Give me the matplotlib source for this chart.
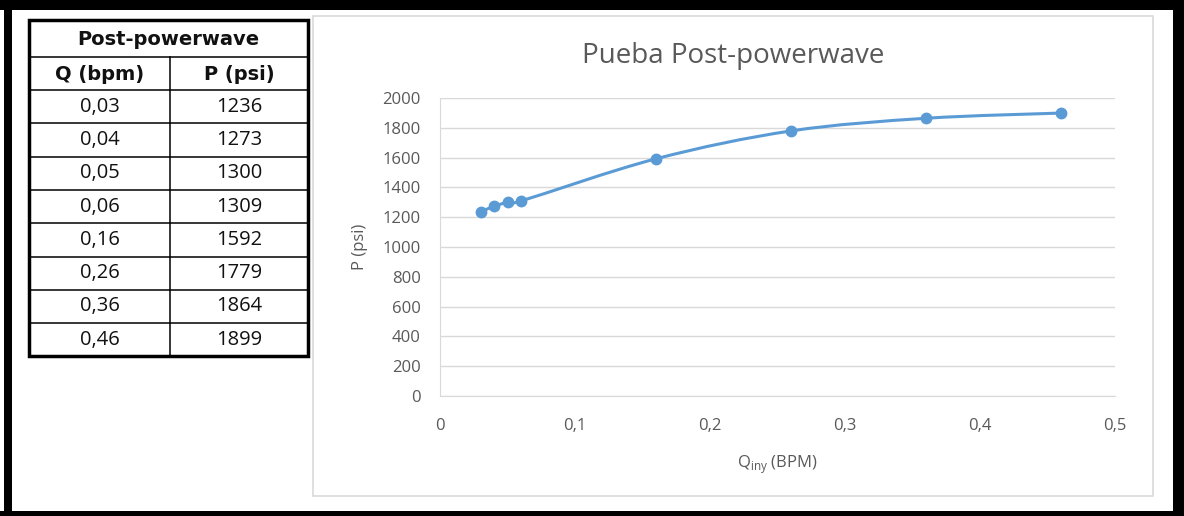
import matplotlib
matplotlib.use("Agg")
import matplotlib.pyplot as plt
from matplotlib.patches import Rectangle
from matplotlib.path import Path
from matplotlib.patches import PathPatch

q_labels = ["0,03", "0,04", "0,05", "0,06", "0,16", "0,26", "0,36", "0,46"]
p_labels = ["1236", "1273", "1300", "1309", "1592", "1779", "1864", "1899"]
q_values = [0.03, 0.04, 0.05, 0.06, 0.16, 0.26, 0.36, 0.46]
p_values = [1236, 1273, 1300, 1309, 1592, 1779, 1864, 1899]
x_ticks = [0, 0.1, 0.2, 0.3, 0.4, 0.5]
x_tick_labels = ["0", "0,1", "0,2", "0,3", "0,4", "0,5"]
y_ticks = list(range(0, 2001, 200))

W, H = 1184, 516
fig = plt.figure(figsize=(W / 100, H / 100), dpi=100)
fig.patch.set_facecolor("white")

FONT = ["Open Sans", "DejaVu Sans"]
HFONT = ["DejaVu Sans"]


def fx(px):
    return px / W


def fy(py):
    return 1 - py / H


# overlay axes in pixel coords
ov = fig.add_axes([0, 0, 1, 1])
ov.set_xlim(0, W)
ov.set_ylim(H, 0)
ov.axis("off")

# outer black frame
ov.add_patch(Rectangle((0, 0), W, 10, color="black", lw=0))
ov.add_patch(Rectangle((0, 511), W, 5, color="black", lw=0))
ov.add_patch(Rectangle((4, 0), 8, H, color="black", lw=0))
ov.add_patch(Rectangle((1173, 0), 11, H, color="black", lw=0))

# chart area border
ov.add_patch(Rectangle((313, 16), 840, 480, fill=False, ec="#d9d9d9", lw=1.2))

# table
tx0, tx1, tmid = 29, 308, 170
row_edges = [20, 57, 90] + [90 + 33.3 * (i + 1) for i in range(8)]
ov.add_patch(Rectangle((tx0, row_edges[0]), tx1 - tx0, row_edges[-1] - row_edges[0],
                       fill=False, ec="black", lw=2.5))
for yy in row_edges[1:-1]:
    ov.plot([tx0, tx1], [yy, yy], color="black", lw=1.1)
ov.plot([tmid, tmid], [row_edges[1], row_edges[-1]], color="black", lw=1.1)

HS = 14
TS = 14.5
ov.text((tx0 + tx1) / 2, (row_edges[0] + row_edges[1]) / 2 + 1, "Post-powerwave",
        ha="center", va="center", fontsize=HS, fontweight="bold", family=HFONT, color="#111111")
ov.text((tx0 + tmid) / 2, (row_edges[1] + row_edges[2]) / 2 + 1, "Q (bpm)",
        ha="center", va="center", fontsize=HS, fontweight="bold", family=HFONT, color="#111111")
ov.text((tmid + tx1) / 2, (row_edges[1] + row_edges[2]) / 2 + 1, "P (psi)",
        ha="center", va="center", fontsize=HS, fontweight="bold", family=HFONT, color="#111111")
for i, (ql, pl) in enumerate(zip(q_labels, p_labels)):
    yc = (row_edges[2 + i] + row_edges[3 + i]) / 2
    ov.text((tx0 + tmid) / 2, yc, ql, ha="center", va="center", fontsize=TS, family=FONT, color="#111111")
    ov.text((tmid + tx1) / 2, yc, pl, ha="center", va="center", fontsize=TS, family=FONT, color="#111111")

# chart axes
ax_l, ax_r, ax_t, ax_b = 440, 1115, 98, 396
ax = fig.add_axes([fx(ax_l), fy(ax_b), fx(ax_r - ax_l), (ax_b - ax_t) / H])
ax.set_xlim(0, 0.5)
ax.set_ylim(0, 2000)
ax.set_xticks(x_ticks)
ax.set_xticklabels(x_tick_labels)
ax.set_yticks(y_ticks)
ax.grid(axis="y", color="#d9d9d9", lw=1)
ax.set_axisbelow(True)
for s in ["top", "right"]:
    ax.spines[s].set_visible(False)
ax.spines["left"].set_color("#d9d9d9")
ax.spines["bottom"].set_color("#d9d9d9")
ax.tick_params(length=0, colors="#595959", labelsize=12)
ax.tick_params(axis="y", pad=14)
ax.tick_params(axis="x", pad=16)
for lab in ax.get_xticklabels() + ax.get_yticklabels():
    lab.set_family(FONT)

# smoothed line (Catmull-Rom style Bezier, like Excel smoothing)
color = "#5b9bd5"
pts = list(zip(q_values, p_values))
verts = [pts[0]]
codes = [Path.MOVETO]
n = len(pts)
t = 1 / 6
for i in range(n - 1):
    p0 = pts[i - 1] if i > 0 else pts[i]
    p1 = pts[i]
    p2 = pts[i + 1]
    p3 = pts[i + 2] if i + 2 < n else pts[i + 1]
    c1 = (p1[0] + (p2[0] - p0[0]) * t, p1[1] + (p2[1] - p0[1]) * t)
    c2 = (p2[0] - (p3[0] - p1[0]) * t, p2[1] - (p3[1] - p1[1]) * t)
    verts += [c1, c2, p2]
    codes += [Path.CURVE4] * 3
ax.add_patch(PathPatch(Path(verts, codes), fill=False, ec=color, lw=2.2, capstyle="round"))
ax.plot(q_values, p_values, "o", color=color, ms=7.5, zorder=3)

ax.set_ylabel("P (psi)", fontsize=12, color="#595959", family=FONT, labelpad=10)
ax.set_xlabel(r"Q$_{\mathregular{iny}}$ (BPM)", fontsize=12, color="#595959", family=FONT, labelpad=14)

fig.text(fx(733), fy(56), "Pueba Post-powerwave", ha="center", va="center",
         fontsize=20, color="#595959", family=FONT)

fig.savefig("out.png", dpi=100)
